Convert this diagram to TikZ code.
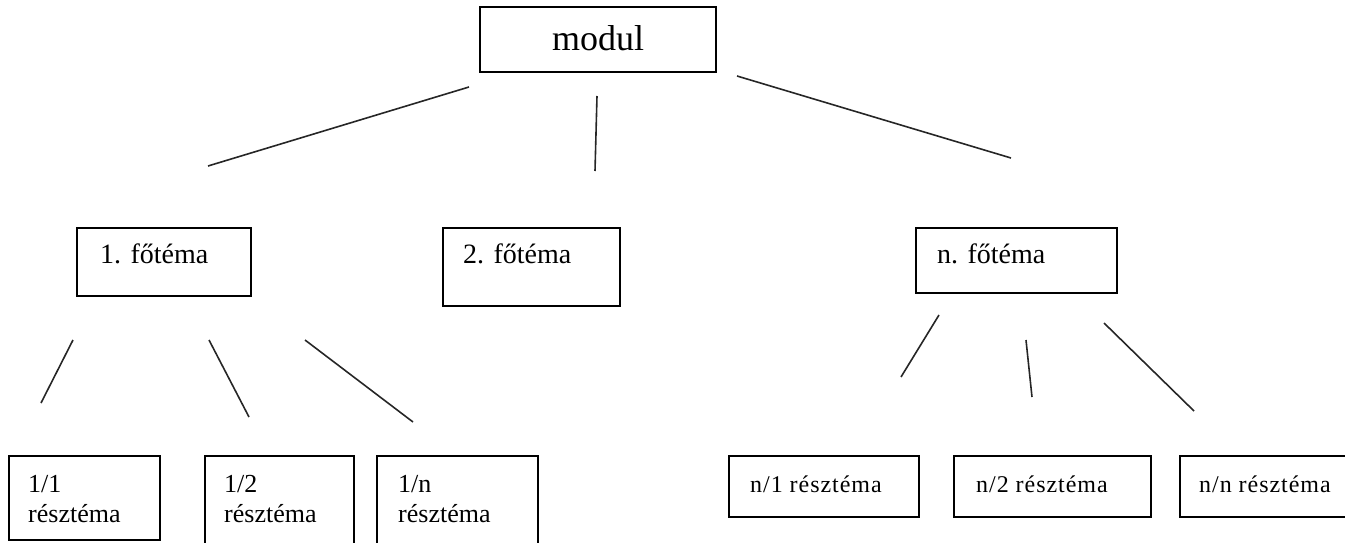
\documentclass[tikz,border=0pt]{standalone}
\usepackage{fontspec}
\setmainfont{Liberation Serif}
\begin{document}
\begin{tikzpicture}[x=1pt,y=-1pt,
  box/.style={draw=black,line width=1.8pt,inner sep=0pt},
  conn/.style={draw=black!85,line width=1.6pt},
  lbltop/.style={inner sep=0pt,anchor=base west,font=\fontsize{28}{32}\selectfont},
  lblsub/.style={inner sep=0pt,anchor=base west,font=\fontsize{26}{30}\selectfont},
  lbln/.style={inner sep=0pt,anchor=base west,font=\addfontfeatures{LetterSpace=4}\fontsize{24}{28}\selectfont}]
\useasboundingbox (0,0) rectangle (1345,543);
\clip (0,0) rectangle (1345,543);
% boxes
\draw[box] (480,7) rectangle (716,72);
\node[inner sep=0pt,anchor=base,font=\fontsize{36}{40}\selectfont] (modul) at (598,51) {modul};
\draw[box] (77,228) rectangle (251,296);
\draw[box] (443,228) rectangle (620,306);
\draw[box] (916,228) rectangle (1117,293);
\node[lbltop] (f1) at (100,263) {1. főtéma};
\node[lbltop] (f2) at (463,263) {2. főtéma};
\node[lbltop] (fn) at (937,263) {n. főtéma};
\draw[box] (9,456) rectangle (160,540);
\draw[box] (205,548) -- (205,456) -- (354,456) -- (354,548);
\draw[box] (377,548) -- (377,456) -- (538,456) -- (538,548);
\node[lblsub] (r11a) at (28,492) {1/1};
\node[lblsub] (r11b) at (28,522) {résztéma};
\node[lblsub] (r12a) at (224,492) {1/2};
\node[lblsub] (r12b) at (224,522) {résztéma};
\node[lblsub] (r1na) at (398,492) {1/n};
\node[lblsub] (r1nb) at (398,522) {résztéma};
\draw[box] (729,456) rectangle (919,517);
\draw[box] (954,456) rectangle (1151,517);
\draw[box] (1360,456) -- (1180,456) -- (1180,517) -- (1360,517);
\node[lbln] (rn1) at (750,492) {n/1 résztéma};
\node[lbln] (rn2) at (976,492) {n/2 résztéma};
\node[lbln] (rnn) at (1199,492) {n/n résztéma};
% connector end points
\coordinate (l1a) at (469,87);   \coordinate (l1b) at (208,166);
\coordinate (l2a) at (597,96);   \coordinate (l2b) at (595,171);
\coordinate (l3a) at (737,76);   \coordinate (l3b) at (1011,158);
\coordinate (a1) at (73,340);    \coordinate (a2) at (41,403);
\coordinate (b1) at (209,340);   \coordinate (b2) at (249,417);
\coordinate (c1) at (305,340);   \coordinate (c2) at (413,422);
\coordinate (d1) at (939,315);   \coordinate (d2) at (901,377);
\coordinate (e1) at (1026,340);  \coordinate (e2) at (1032,397);
\coordinate (g1) at (1104,323);  \coordinate (g2) at (1194,411);
\draw[conn] (l1a) -- (l1b);
\draw[conn] (l2a) -- (l2b);
\draw[conn] (l3a) -- (l3b);
\draw[conn] (a1) -- (a2);
\draw[conn] (b1) -- (b2);
\draw[conn] (c1) -- (c2);
\draw[conn] (d1) -- (d2);
\draw[conn] (e1) -- (e2);
\draw[conn] (g1) -- (g2);
\end{tikzpicture}
\end{document}
